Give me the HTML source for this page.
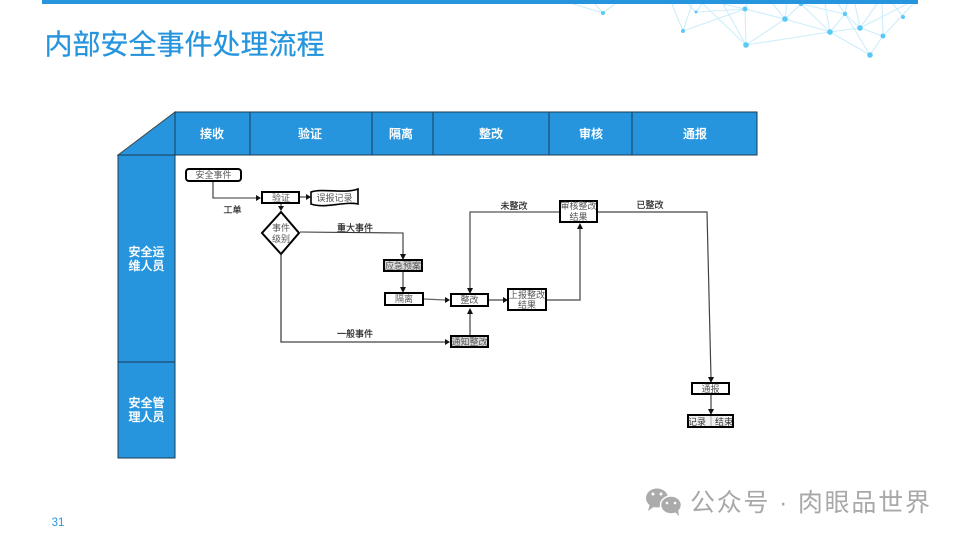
<!DOCTYPE html>
<html lang="zh">
<head>
<meta charset="utf-8">
<style>
html,body{margin:0;padding:0;background:#fff}
svg{display:block}
text{font-family:"Liberation Sans","Noto Sans CJK SC",sans-serif;text-anchor:middle}
.h{fill:#fff;font-size:12px;font-weight:500;stroke:#fff;stroke-width:.2}
.n{fill:#555;font-size:9px}
.l{fill:#222;font-size:9px;stroke:#222;stroke-width:.15}
.b{fill:#fff;stroke:#000;stroke-width:2}
.g{fill:#d8d8d8;stroke:#000;stroke-width:2}
.c{fill:none;stroke:#333;stroke-width:1.1}
.a{fill:#111;stroke:none}
.w{fill:none;stroke:#cdeefb;stroke-width:1.1}
.d{fill:#5cc8f5}
</style>
</head>
<body>
<svg width="960" height="541" viewBox="0 0 960 541" xmlns="http://www.w3.org/2000/svg">
<!-- network decoration -->
<path class="w" d="M573 4L603 13L595 4M603 13L615 4M672 4L683 31L692 4M683 31L745 9M688 4L696 12L702 4M696 12L745 9M703 4L746 45M723 4L746 45M723 4L745 9M745 9L746 45M745 9L747 4M745 9L785 19M785 19L746 45M773 4L785 19L787 4M785 19L801 4L845 14M801 4L830 32M746 45L830 32M785 19L830 32M825 4L830 32M830 32L845 14M830 32L860 28M830 32L870 55M838 4L845 14L847 4M845 14L860 28L883 36M845 14L870 55L883 36M855 4L860 28L877 4M860 28L907 4M882 4L883 36L913 4M893 4L903 17"/>
<g class="d">
<circle cx="603" cy="13" r="2"/><circle cx="683" cy="31" r="2"/><circle cx="696" cy="12" r="1.5"/><circle cx="745" cy="9" r="2.5"/><circle cx="746" cy="45" r="2.8"/><circle cx="785" cy="19" r="2.8"/><circle cx="801" cy="4" r="2.2"/><circle cx="830" cy="32" r="2.8"/><circle cx="845" cy="14" r="2.2"/><circle cx="860" cy="28" r="2.8"/><circle cx="883" cy="36" r="2.5"/><circle cx="870" cy="55" r="2.8"/><circle cx="903" cy="17" r="2"/>
</g>
<rect x="42" y="0" width="876" height="4" fill="#2695dd"/>
<text x="184.500" y="54" style="font-size:28px;fill:#2695dd;stroke:#2695dd;stroke-width:.25">内部安全事件处理流程</text>

<!-- swimlane -->
<path d="M118 155L175 112V155Z" fill="#2695dd" stroke="#444" stroke-width="1"/>
<rect x="175" y="112" width="582" height="43" fill="#2695dd" stroke="#1c3a52" stroke-width="1"/>
<path d="M250 112V155M372 112V155M433 112V155M549 112V155M632 112V155" stroke="#1c4a6e" stroke-width="1.2" fill="none"/>
<rect x="118" y="155" width="57" height="207" fill="#2695dd" stroke="#1c3a52" stroke-width="1"/>
<rect x="118" y="362" width="57" height="96" fill="#2695dd" stroke="#1c3a52" stroke-width="1"/>
<text class="h" x="212" y="138">接收</text>
<text class="h" x="310" y="138">验证</text>
<text class="h" x="401" y="138">隔离</text>
<text class="h" x="491" y="138">整改</text>
<text class="h" x="591" y="138">审核</text>
<text class="h" x="695" y="138">通报</text>
<text class="h" x="146.500" y="256">安全运</text>
<text class="h" x="146.500" y="270">维人员</text>
<text class="h" x="146.500" y="407">安全管</text>
<text class="h" x="146.500" y="421">理人员</text>

<!-- connectors -->
<path class="c" d="M213 181V198H256"/>
<path class="a" d="M261 198L256 195V201Z"/>
<path class="c" d="M300 197H306"/>
<path class="a" d="M311 197L306 194V200Z"/>
<path class="c" d="M281 204V207"/>
<path class="a" d="M281 211L278 206H284Z"/>
<path class="c" d="M300 232L403 233V255"/>
<path class="a" d="M403 260L400 254H406Z"/>
<path class="c" d="M403 272V288" stroke-width="1.3"/>
<path class="a" d="M403 293L400 287H406Z"/>
<path class="c" d="M424 299L445 300" style="stroke:#666;stroke-width:1.3"/>
<path class="a" d="M450 300L445 297V303Z"/>
<path class="c" d="M281 255V342L445 342" style="stroke:#444;stroke-width:1.3"/>
<path class="a" d="M450 342L445 339V345Z"/>
<path class="c" d="M470 335V314" style="stroke:#666;stroke-width:1.5"/>
<path class="a" d="M470 308L467 314H473Z"/>
<path class="c" d="M559 212H470V289" style="stroke:#555;stroke-width:1.3"/>
<path class="a" d="M470 294L467 288H473Z"/>
<path class="c" d="M488 300H503" style="stroke:#666;stroke-width:1.5"/>
<path class="a" d="M508 300L503 297V303Z"/>
<path class="c" d="M546 300L580 300V228" style="stroke:#666;stroke-width:1.5"/>
<path class="a" d="M580 223L577 229H583Z"/>
<path class="c" d="M597 212L707 212L711 378" style="stroke:#444;stroke-width:1.2"/>
<path class="a" d="M711 383L708 377H714Z"/>
<path class="c" d="M711 394V410"/>
<path class="a" d="M711 415L708 409H714Z"/>

<!-- nodes -->
<rect class="b" x="186" y="169" width="55" height="12" rx="3"/>
<text class="n" x="213.500" y="178">安全事件</text>
<rect class="b" x="262" y="192" width="37" height="11"/>
<text class="n" x="281" y="201">验证</text>
<path d="M311 192C323 188 345 194 358 189V204C345 201 325 209 311 204Z" fill="#fff" stroke="#000" stroke-width="1.6"/>
<text class="n" x="334.500" y="201">误报记录</text>
<path class="b" d="M281 212L299 233L281 254L262 233Z"/>
<text class="n" x="281" y="231">事件</text>
<text class="n" x="281" y="242">级别</text>
<rect class="g" x="384" y="260" width="38" height="11"/>
<text class="n" x="403" y="269">应急预案</text>
<rect class="b" x="385" y="293" width="38" height="12"/>
<text class="n" x="404" y="302">隔离</text>
<rect class="b" x="451" y="294" width="37" height="12"/>
<text class="n" x="469.500" y="303">整改</text>
<rect class="g" x="451" y="336" width="37" height="11"/>
<text class="n" x="469.500" y="345">通知整改</text>
<rect class="b" x="508" y="289" width="38" height="21"/>
<text class="n" x="527" y="298">上报整改</text>
<text class="n" x="527" y="308">结果</text>
<rect class="b" x="560" y="201" width="37" height="21"/>
<text class="n" x="578.500" y="209">审核整改</text>
<text class="n" x="578.500" y="220">结果</text>
<rect class="b" x="692" y="383" width="37" height="11"/>
<text class="n" x="710.500" y="392">通报</text>
<rect class="g" x="688" y="415" width="45" height="12" style="fill:#f0f0f0"/>
<path d="M711 416V426" stroke="#aaa" stroke-width="1"/>
<text class="n" x="697" y="425" style="fill:#333">记录</text>
<text class="n" x="724" y="425" style="fill:#333">结束</text>

<!-- labels -->
<text class="l" x="232.500" y="213">工单</text>
<text class="l" x="355" y="231">重大事件</text>
<text class="l" x="355" y="337">一般事件</text>
<text class="l" x="514" y="209">未整改</text>
<text class="l" x="650" y="208">已整改</text>

<!-- page number -->
<text x="58" y="526" style="font-size:11.500px;fill:#2695dd">31</text>

<!-- watermark -->
<g fill="#ababab">
<ellipse cx="657" cy="498" rx="11" ry="9.500"/>
<path d="M650 504L648 511L655 506Z"/>
<ellipse cx="671" cy="505" rx="10.500" ry="9" stroke="#fff" stroke-width="1.500"/>
<path d="M675 512L679 516L678 509Z"/>
</g>
<g fill="#fff">
<circle cx="653" cy="494" r="1.500"/><circle cx="661" cy="494" r="1.500"/><circle cx="667" cy="503" r="1.300"/><circle cx="675" cy="503" r="1.300"/>
</g>
<text x="810" y="511" textLength="240" lengthAdjust="spacing" style="font-size:25px;fill:#a8a8a8">公众号 · 肉眼品世界</text>
</svg>
</body>
</html>
